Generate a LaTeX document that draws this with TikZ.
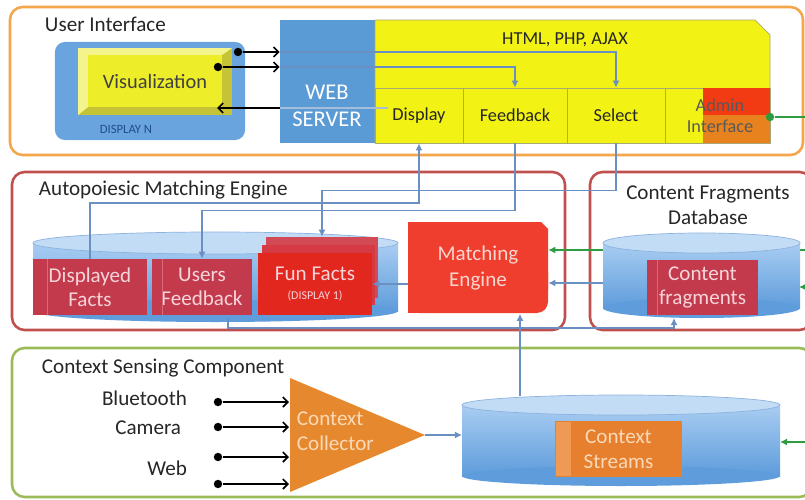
\documentclass[tikz,border=0pt]{standalone}
\usepackage{fontspec}
\setmainfont{Carlito}
\usepackage{xcolor}
\usetikzlibrary{arrows.meta}

\definecolor{uiorange}{HTML}{F5A54A}
\definecolor{amered}{HTML}{C0504D}
\definecolor{cscgreen}{HTML}{9BBB59}
\definecolor{wsblue}{HTML}{5B9BD5}
\definecolor{dispblue}{HTML}{6AA4DE}
\definecolor{navy}{HTML}{1F4E8A}
\definecolor{uiyellow}{HTML}{F2F214}
\definecolor{cellgray}{HTML}{A8A878}
\definecolor{visolive}{HTML}{C4C436}
\definecolor{visyellow}{HTML}{EDED2A}
\definecolor{vislight}{HTML}{F4F48C}
\definecolor{linkblue}{HTML}{6A8FC3}
\definecolor{factred}{HTML}{C33A4C}
\definecolor{factline}{HTML}{D8687A}
\definecolor{factpink}{HTML}{F6D5DA}
\definecolor{funred}{HTML}{E2271F}
\definecolor{funback}{HTML}{D24A55}
\definecolor{funmid}{HTML}{D63A45}
\definecolor{mered}{HTML}{EF3E2D}
\definecolor{mepink}{HTML}{FBD5D0}
\definecolor{admred}{HTML}{F23B12}
\definecolor{admorange}{HTML}{E8821E}
\definecolor{trorange}{HTML}{E6892E}
\definecolor{trtext}{HTML}{FAD9B8}
\definecolor{strorange}{HTML}{E7802E}
\definecolor{strlight}{HTML}{EE9A55}
\definecolor{grn}{HTML}{2E9C40}
\definecolor{cyltop}{HTML}{A9CDF2}
\definecolor{cylbot}{HTML}{5E9CDB}
\definecolor{cyllid}{HTML}{C3DCF5}
\definecolor{cyledge}{HTML}{8CB2DE}

\begin{document}
\begin{tikzpicture}[
    x=0.025cm, y=-0.025cm,
    font=\fontsize{13}{15}\selectfont,
    text=black!85,
    title/.style={font=\fontsize{15}{18}\selectfont},
    frame/.style={line width=1.8pt, rounded corners=9pt},
    cell/.style={draw=cellgray, line width=0.5pt, fill=uiyellow, inner sep=0pt, minimum height=1.375cm},
    fact/.style={fill=factred, text=factpink, align=center, inner sep=0pt, font=\fontsize{15}{17}\selectfont},
    link/.style={draw=linkblue, line width=1.2pt, -{Latex[length=5pt,width=5pt]}},
    glink/.style={draw=grn, line width=1.2pt, -{Latex[length=5pt,width=5pt]}},
    wire/.style={black, line width=1.2pt, -{Straight Barb[length=3.5pt,width=7pt]}},
    dot/.style={circle, fill=black, inner sep=0pt, minimum size=6pt}
]
	\useasboundingbox (0,0) rectangle (805,500);

	\draw[frame, draw=uiorange] (10,7) rectangle (803,155);
	\node[title, anchor=west] (uilabel) at (40,24) {User Interface};

	\node[fill=dispblue, rounded corners=7pt, minimum width=4.75cm, minimum height=2.45cm] (dispn) at (150,91) {};
	\node[font=\fontsize{9}{10}\selectfont, text=navy] (dispnlabel) at (126,129) {DISPLAY N};
	\node[fill=visolive, inner sep=0pt, minimum width=3.85cm, minimum height=1.675cm] (vis) at (155,81.5) {};
	\fill[vislight] (78,48) -- (232,48) -- (222,55) -- (88,55) -- (88,107) -- (78,115) -- cycle;
	\node[fill=visyellow, inner sep=0pt, minimum width=3.35cm, minimum height=1.3cm, text=black!75, font=\fontsize{14.5}{17}\selectfont] (vistext) at (155,81) {Visualization};

	\node[fill=wsblue, inner sep=0pt, minimum width=2.375cm, minimum height=3.075cm] (ws) at (327.5,81.5) {};
	\node[text=white, align=center, font=\fontsize{16}{19}\selectfont] (wstext) at (327,106) {WEB\\SERVER};
	\fill[uiyellow, draw=cellgray, line width=0.5pt] (375,20) -- (755,20) -- (770,35) -- (770,143) -- (375,143) -- cycle;
	\node (html) at (565,40) {HTML, PHP, AJAX};
	\node[cell, minimum width=2.2cm] (display) at (419,115.5) {Display};
	\node[cell, minimum width=2.6cm] (feedback) at (515,115.5) {Feedback};
	\node[cell, minimum width=2.45cm] (select) at (616,115.5) {Select};
	\node[cell, minimum width=2.625cm] (admin) at (717.5,115.5) {};
	\fill[admred] (703,88) rectangle (770,115);
	\fill[admorange] (703,115) rectangle (770,143);
	\node[align=center, text=black!65] (admintext) at (720,116) {Admin\\Interface};
	\node[circle, fill=grn, inner sep=0pt, minimum size=6pt] (gdot) at (770,117) {};
	\coordinate (gout) at (806,117);
	\draw[grn, line width=1.2pt] (gdot) -- (gout);

	\node[dot] (d1) at (238,52) {};
	\node[dot] (d2) at (218,67) {};
	\coordinate (r1) at (388,108);
	\coordinate (vin) at (217,108);
	\draw[wire] (d1) -- (ws.west |- d1);
	\draw[wire] (d2) -- (ws.west |- d2);
	\draw[link] (ws.west |- d1) -| (select.north);
	\draw[link] (ws.west |- d2) -| (feedback.north);
	\draw[linkblue!60, line width=1pt] (r1) -- (ws.west |- r1);
	\draw[wire] (ws.west |- r1) -- (vin);

	\draw[frame, draw=amered] (12,172) rectangle (565,330);
	\node[title, anchor=west] (amelabel) at (34,190) {Autopoiesic Matching Engine};
	\draw[frame, draw=amered] (590,172) rectangle (812,330);
	\node[title, align=center] (cfdlabel) at (708,205) {Content Fragments\\Database};

	\fill[mered] (408,222) -- (541,222) -- (548,229) -- (548,290) -- (408,290) -- cycle;
	\fill[mered, rounded corners=8pt] (408,260) rectangle (548,313);
	\fill[mered] (408,260) rectangle (530,313);
	\node[text=mepink, align=center, minimum width=3.5cm, minimum height=2.275cm, font=\fontsize{15}{18}\selectfont] (me) at (478,268) {Matching\\Engine};

	\shade[top color=cyltop, bottom color=cylbot] (33,243) rectangle (398,311);
	\fill[cylbot] (215.5,311) ellipse[x radius=4.5625cm, y radius=0.275cm];
	\fill[cyllid, draw=cyledge, line width=0.5pt] (215.5,243) ellipse[x radius=4.5625cm, y radius=0.275cm];

	\node[fact, minimum width=2.85cm, minimum height=1.4cm] (dfacts) at (90,287) {Displayed\\Facts};
	\draw[factline, line width=0.6pt] ([xshift=0.375cm]dfacts.north west) -- ([xshift=0.375cm]dfacts.south west);
	\node[fact, minimum width=2.5cm, minimum height=1.4cm] (ufeed) at (202,287) {Users\\Feedback};
	\draw[factline, line width=0.6pt] ([xshift=0.275cm]ufeed.north west) -- ([xshift=0.275cm]ufeed.south west);
	\node[fill=funback, minimum width=2.8cm, minimum height=1.525cm] (funbk) at (322,267.5) {};
	\node[fill=funmid, minimum width=2.825cm, minimum height=1.5cm] (funmd) at (318.5,275) {};
	\node[fact, fill=funred, minimum width=2.85cm, minimum height=1.55cm] (fun) at (315,284) {Fun Facts\\[-3pt]{\fontsize{8.5}{9}\selectfont (DISPLAY 1)}};

	\coordinate (gin1) at (806,250);
	\draw[glink] (gin1) -- (me.east |- gin1);

	\shade[top color=cyltop, bottom color=cylbot] (603,243) rectangle (800,308);
	\fill[cylbot] (701.5,308) ellipse[x radius=2.4625cm, y radius=0.25cm];
	\fill[cyllid, draw=cyledge, line width=0.5pt] (701.5,243) ellipse[x radius=2.4625cm, y radius=0.25cm];
	\node[fact, minimum width=2.775cm, minimum height=1.375cm] (cfrag) at (702.5,287.5) {Content\\fragments};
	\draw[factline, line width=0.6pt] ([xshift=0.275cm]cfrag.north west) -- ([xshift=0.275cm]cfrag.south west);

	\coordinate (cyl2w) at (603,283);
	\coordinate (cyl2e) at (799,287);
	\coordinate (gin2) at (806,287);
	\coordinate (cyl1b) at (228,318);
	\coordinate (cfin) at (674,318);
	\draw[link] (me.west |- fun.east) -- (fun.east);
	\draw[link] (cyl2w) -- (me.east |- cyl2w);
	\draw[glink] (gin2) -- (cyl2e);
	\draw[link] (dfacts.north) -- ++(0,-56) -| (display.south);
	\draw[link] (feedback.south) -- ++(0,67) -| (ufeed.north);
	\draw[link] (select.south) -- ++(0,47) -| (funbk.north);
	\draw[link] (cyl1b) -- ++(0,10) -| (cfin);

	\draw[frame, draw=cscgreen] (12,348) rectangle (812,497);
	\node[title, anchor=west] (csclabel) at (37,368) {Context Sensing Component};
	\node[title, anchor=east] (bt) at (192,398) {Bluetooth};
	\node[title, anchor=east] (cam) at (186,428) {Camera};
	\node[title, anchor=east] (web) at (192,468) {Web};
	\node[dot] (s1) at (218,402) {};
	\node[dot] (s2) at (218,427) {};
	\node[dot] (s3) at (218,457) {};
	\node[dot] (s4) at (218,484) {};

	\fill[trorange] (290,378) -- (425,435) -- (290,492) -- cycle;
	\node[align=left, anchor=west, text=trtext, font=\fontsize{15}{18}\selectfont] (coll) at (292,431) {Context\\Collector};
	\coordinate (trl) at (289,435);
	\coordinate (apex) at (425,435);
	\draw[wire] (s1) -- (s1 -| trl);
	\draw[wire] (s2) -- (s2 -| trl);
	\draw[wire] (s3) -- (s3 -| trl);
	\draw[wire] (s4) -- (s4 -| trl);

	\shade[top color=cyltop, bottom color=cylbot] (462,405) rectangle (780,476);
	\fill[cylbot] (621,476) ellipse[x radius=3.975cm, y radius=0.25cm];
	\fill[cyllid, draw=cyledge, line width=0.5pt] (621,405) ellipse[x radius=3.975cm, y radius=0.25cm];
	\node[fill=strorange, text=trtext, align=center, inner sep=0pt, minimum width=3.175cm, minimum height=1.4cm, font=\fontsize{15}{18}\selectfont] (streams) at (618.5,449) {Context\\Streams};
	\fill[strlight] (556,422) rectangle (571,476);

	\coordinate (cyl3w) at (462,435);
	\coordinate (cyl3t) at (520,396);
	\coordinate (cyl3e) at (780,442);
	\coordinate (gin3) at (806,442);
	\draw[link] (apex) -- (cyl3w);
	\draw[link] (cyl3t) -- (cyl3t |- me.south);
	\draw[glink] (gin3) -- (cyl3e);
\end{tikzpicture}
\end{document}
